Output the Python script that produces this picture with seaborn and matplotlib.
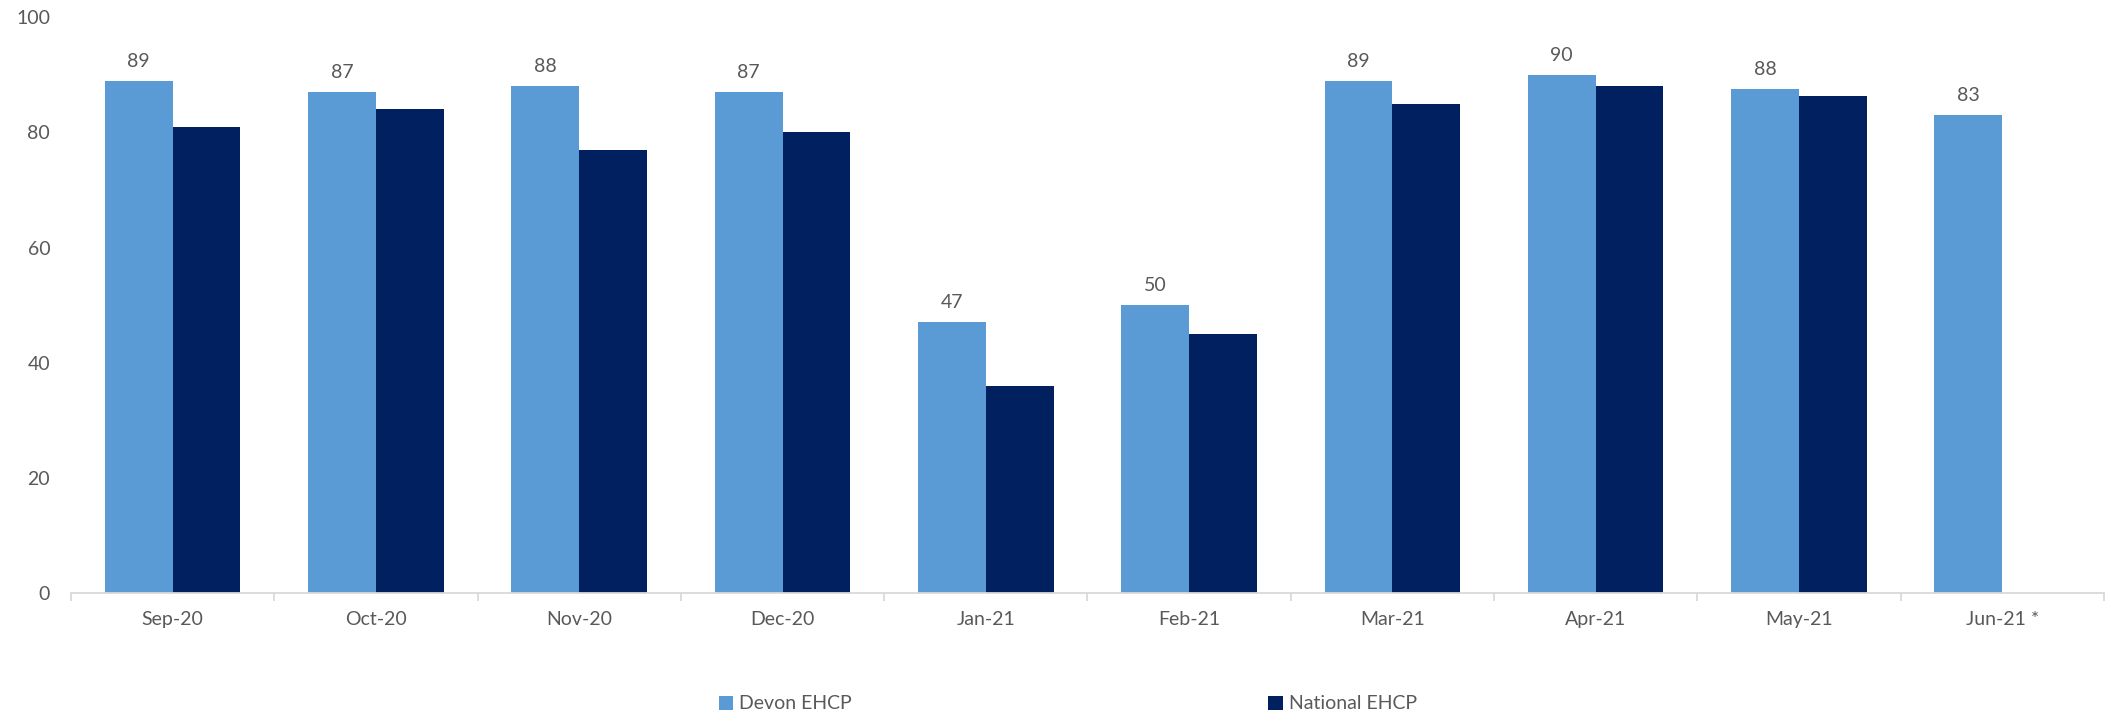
import matplotlib
matplotlib.use("Agg")
import matplotlib.pyplot as plt
import seaborn as sns
import pandas as pd
import numpy as np
from matplotlib.patches import Patch

months = ["Sep-20", "Oct-20", "Nov-20", "Dec-20", "Jan-21", "Feb-21",
          "Mar-21", "Apr-21", "May-21", "Jun-21 *"]
devon = [89, 87, 88, 87, 47, 50, 89, 90, 87.6, 83.1]
national = [81, 84, 77, 80, 36, 45, 85, 88, 86.4, np.nan]
series = ["Devon EHCP", "National EHCP"]
colors = ["#5B9BD5", "#002060"]

df = pd.DataFrame({
    "month": months * 2,
    "value": devon + national,
    "series": [series[0]] * len(months) + [series[1]] * len(months),
})

sns.set_theme(style="white")
plt.rcParams["font.family"] = ["Lato", "DejaVu Sans"]
txt = "#595959"
fs = 14

fig = plt.figure(figsize=(21.08, 7.16), dpi=100)
ax = fig.add_axes([0.0337, 0.1722, 0.9643, 0.8035])

sns.barplot(data=df, x="month", y="value", hue="series", order=months,
            hue_order=series, palette=colors, width=2/3, saturation=1,
            edgecolor="none", linewidth=0, ax=ax, legend=False)

ax.bar_label(ax.containers[0], fmt="%.0f", padding=8, fontsize=fs, color=txt)

ax.set_ylim(0, 100)
ax.set_xlim(-0.5, len(months) - 0.5)
ax.set_yticks([0, 20, 40, 60, 80, 100])
ax.set_xlabel("")
ax.set_ylabel("")
for s in ["top", "right", "left"]:
    ax.spines[s].set_visible(False)
ax.spines["bottom"].set_color("#D9D9D9")
ax.spines["bottom"].set_linewidth(1.3)

ax.set_xticks(np.arange(-0.5, len(months)), minor=True)
ax.tick_params(axis="x", which="minor", length=5.5, width=1.3, color="#D9D9D9", bottom=True)
ax.tick_params(axis="x", which="major", length=0, pad=13, labelsize=fs, labelcolor=txt)
ax.tick_params(axis="y", length=0, pad=15, labelsize=fs, labelcolor=txt)

handles = [Patch(facecolor=c, edgecolor="none") for c in colors]
fig.legend(handles, series, ncol=2, loc="center left",
           bbox_to_anchor=(0.341, 0.0168), frameon=False,
           borderpad=0, borderaxespad=0, handlelength=0.75, handleheight=0.75,
           handletextpad=0.3, columnspacing=21.4, fontsize=fs, labelcolor=txt)

fig.savefig("out.png", dpi=100, facecolor="white")
